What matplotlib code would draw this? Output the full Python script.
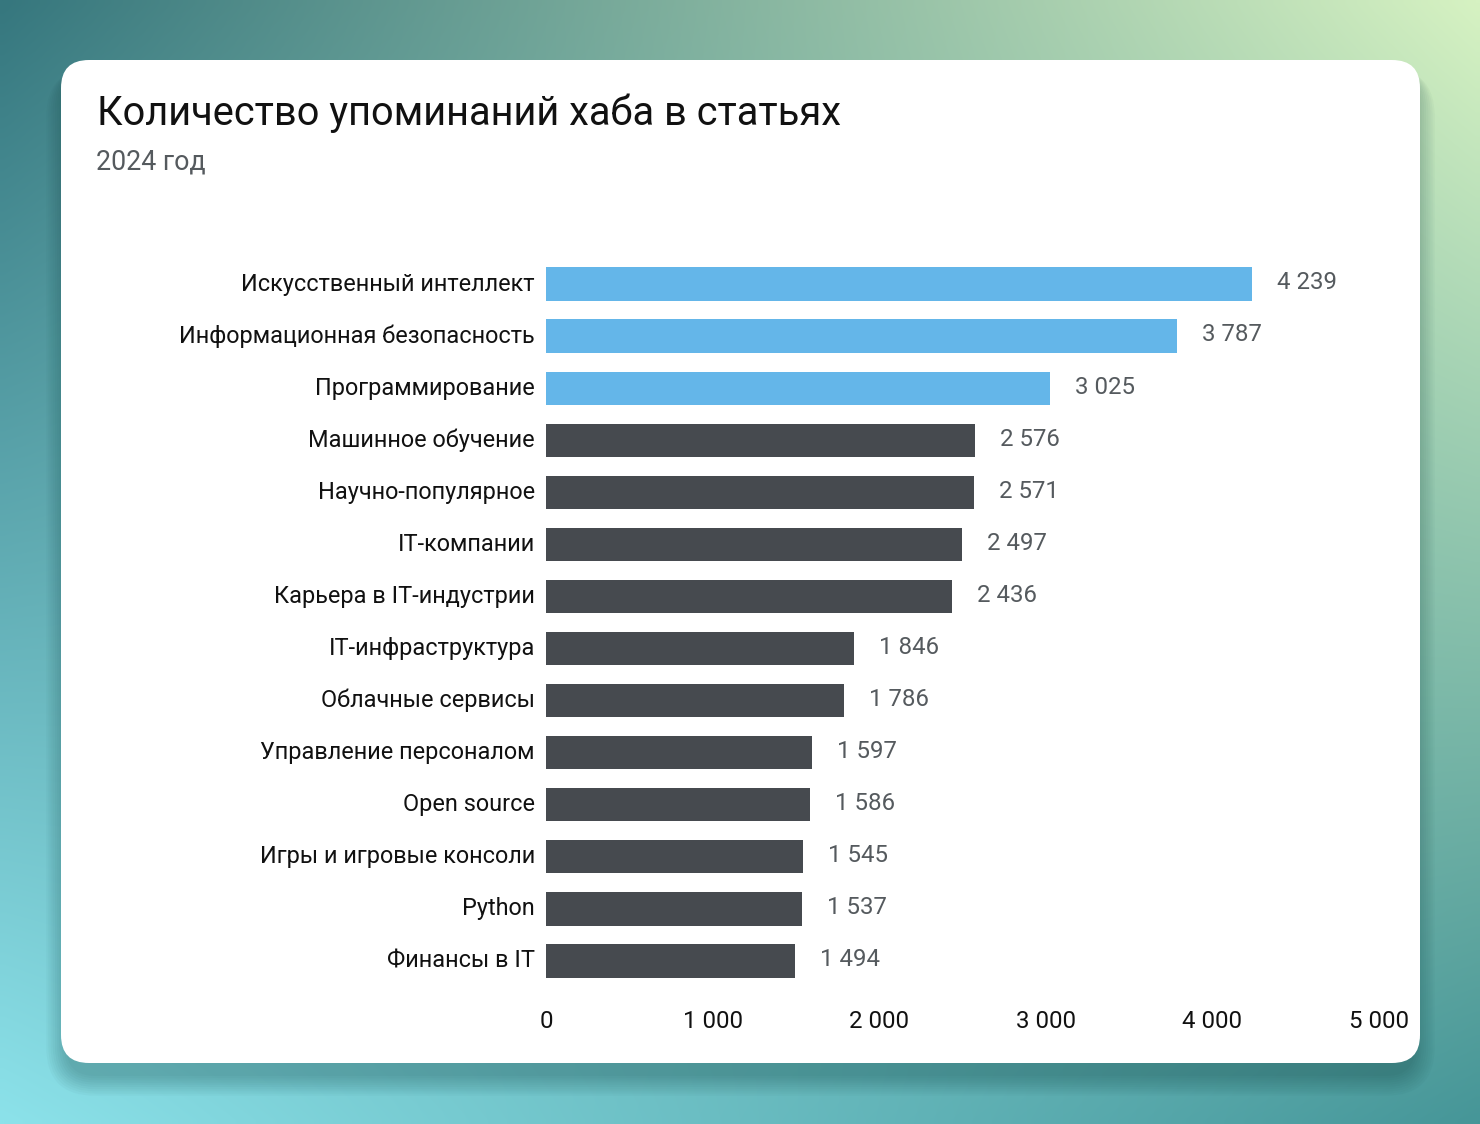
import numpy as np
import matplotlib.pyplot as plt
from matplotlib.patches import FancyBboxPatch
from matplotlib.ticker import FuncFormatter

plt.rcParams['font.family'] = ['Roboto', 'DejaVu Sans']

categories = ['Искусственный интеллект', 'Информационная безопасность', 'Программирование',
              'Машинное обучение', 'Научно-популярное', 'IT-компании', 'Карьера в IT-индустрии',
              'IT-инфраструктура', 'Облачные сервисы', 'Управление персоналом', 'Open source',
              'Игры и игровые консоли', 'Python', 'Финансы в IT']
values = [4239, 3787, 3025, 2576, 2571, 2497, 2436, 1846, 1786, 1597, 1586, 1545, 1537, 1494]
highlight = [True, True, True] + [False] * 11
ticks = [0, 1000, 2000, 3000, 4000, 5000]

title = 'Количество упоминаний хаба в статьях'
subtitle = '2024 год'

W, H = 1480, 1124
fig = plt.figure(figsize=(W / 100, H / 100), dpi=100)

# background gradient + card
bg = fig.add_axes([0, 0, 1, 1])
bg.set_xlim(0, W)
bg.set_ylim(H, 0)
bg.axis('off')
tl = np.array([0x36, 0x77, 0x7e]) / 255
tr = np.array([0xd6, 0xf2, 0xc2]) / 255
bl = np.array([0x8c, 0xe2, 0xea]) / 255
br = np.array([0x46, 0x96, 0x98]) / 255
u = np.linspace(0, 1, 200)[None, :, None]
v = np.linspace(0, 1, 160)[:, None, None]
grad = (1 - u) * (1 - v) * tl + u * (1 - v) * tr + (1 - u) * v * bl + u * v * br
bg.imshow(grad, extent=[0, W, H, 0], aspect='auto', interpolation='bilinear')

cx0, cy0, cx1, cy1 = 61, 60, 1420, 1063
for i in range(10):
    grow = 1 + i * 2.2
    sh = FancyBboxPatch((cx0 - grow + 6, cy0 + 8), cx1 - cx0 + 2 * grow - 12, cy1 - cy0 + grow + 4,
                        boxstyle='round,pad=0,rounding_size=%f' % (28 + grow),
                        fc='#0b3a3a', ec='none', alpha=0.03)
    bg.add_patch(sh)
card = FancyBboxPatch((cx0, cy0), cx1 - cx0, cy1 - cy0, boxstyle='round,pad=0,rounding_size=28',
                      fc='white', ec='none')
bg.add_patch(card)

fig.text(97 / W, 1 - 125 / H, title, fontsize=28.7, color='#111111', va='baseline')
fig.text(96 / W, 1 - 170 / H, subtitle, fontsize=19.3, color='#555a5e', va='baseline')

# bar chart
ax = fig.add_axes([546 / W, 1 - 987 / H, (1379 - 546) / W, (987 - 258) / H])
ax.set_facecolor('none')
y = np.arange(len(categories))
colors = ['#64b6e9' if h else '#464a4f' for h in highlight]
ax.barh(y, values, height=0.64, color=colors)
ax.set_ylim(len(categories) - 0.5, -0.5)
ax.set_xlim(0, 5000)
ax.set_yticks(y)
ax.set_yticklabels([])
ax.set_xticks(ticks)
fmt = lambda v, p: '{:,}'.format(int(v)).replace(',', ' ')
ax.xaxis.set_major_formatter(FuncFormatter(fmt))
ax.tick_params(axis='x', length=0, pad=16.5, labelsize=17.3, labelcolor='#111111')
ax.tick_params(axis='y', length=0)
for s in ax.spines.values():
    s.set_visible(False)

for yi, cat in zip(y, categories):
    ax.annotate(cat, (0, yi), xytext=(-8, 0), textcoords='offset points',
                va='center', ha='right', fontsize=16.9, color='#111111', annotation_clip=False)

for yi, val in zip(y, values):
    ax.annotate(fmt(val, None), (val, yi), xytext=(18, 0.8), textcoords='offset points',
                va='center', ha='left', fontsize=17.3, color='#555a5e')

fig.savefig('out.png', dpi=100)
